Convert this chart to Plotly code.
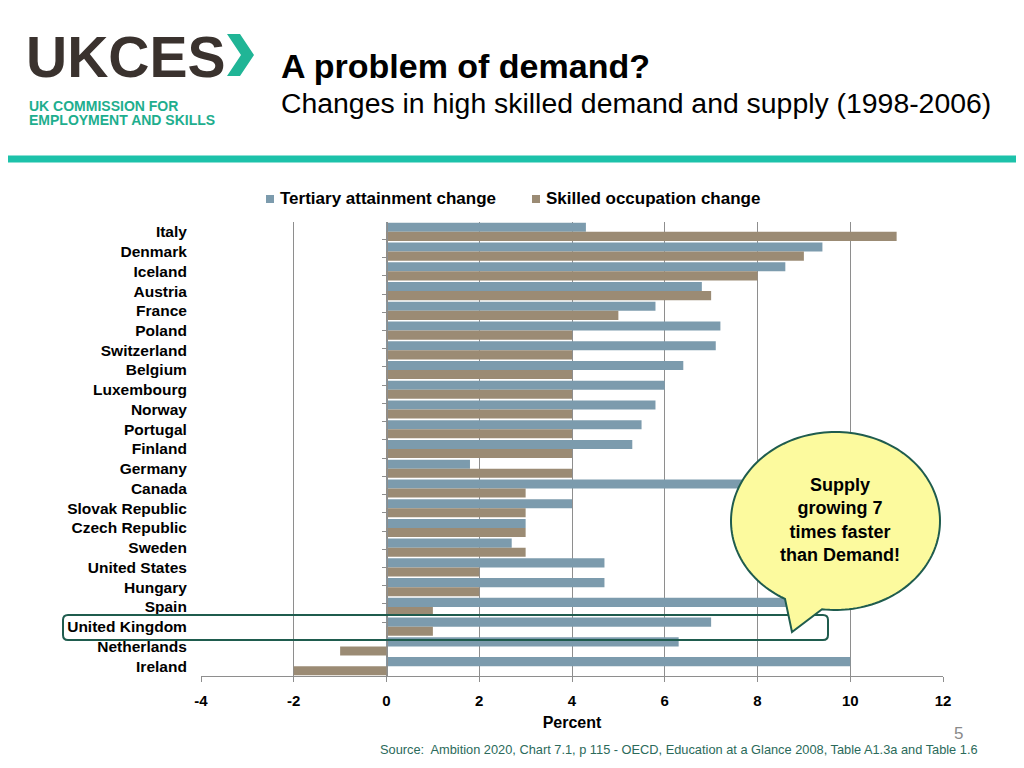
import numpy as np
import plotly.graph_objects as go

countries = ["Italy", "Denmark", "Iceland", "Austria", "France", "Poland", "Switzerland",
             "Belgium", "Luxembourg", "Norway", "Portugal", "Finland", "Germany", "Canada",
             "Slovak Republic", "Czech Republic", "Sweden", "United States", "Hungary",
             "Spain", "United Kingdom", "Netherlands", "Ireland"]
tertiary = [4.3, 9.4, 8.6, 6.8, 5.8, 7.2, 7.1, 6.4, 6.0, 5.8, 5.5, 5.3, 1.8, 8.0,
            4.0, 3.0, 2.7, 4.7, 4.7, 9.0, 7.0, 6.3, 10.0]
skilled = [11.0, 9.0, 8.0, 7.0, 5.0, 4.0, 4.0, 4.0, 4.0, 4.0, 4.0, 4.0, 4.0, 3.0,
           3.0, 3.0, 3.0, 2.0, 2.0, 1.0, 1.0, -1.0, -2.0]
x_ticks = [-4, -2, 0, 2, 4, 6, 8, 10, 12]
x_ticktext = ["-4", "-2", "0", "2", "4", "6", "8", "10", "12"]
series_names = ["Tertiary attainment change", "Skilled occupation change"]

BLUE = "#7C9BAD"
TAUPE = "#9B8B74"
TEAL = "#1DC2AA"
DKGREEN = "#1F5C4E"
FONT = "Liberation Sans"

OFF = 8  # page body margin
W, H = 1024 - OFF, 768 - OFF
# plot area in screen pixels
L, R, T, B = 201, 943, 222, 676


def px(x):
    return (x - L) / (R - L)


def py(y):
    return (B - y) / (B - T)


fig = go.Figure()
fig.add_trace(go.Bar(y=countries, x=tertiary, orientation="h", name=series_names[0],
                     marker=dict(color=BLUE, line=dict(width=0))))
fig.add_trace(go.Bar(y=countries, x=skilled, orientation="h", name=series_names[1],
                     marker=dict(color=TAUPE, line=dict(width=0))))
# helper trace for tick marks on the zero axis
fig.add_trace(go.Scatter(y=countries, x=[None] * len(countries), yaxis="y2", showlegend=False,
                         hoverinfo="skip", mode="markers"))

fig.update_layout(
    width=W, height=H,
    margin=dict(l=L - OFF, r=W - (R - OFF), t=T - OFF, b=H - (B - OFF), pad=0),
    paper_bgcolor="white", plot_bgcolor="white",
    barmode="group", bargap=0.08, bargroupgap=0,
    font=dict(family=FONT, color="black"),
    showlegend=False,
    xaxis=dict(range=[-4, 12], tickvals=x_ticks, ticktext=x_ticktext,
               showgrid=True, gridcolor="#8E8E8E", gridwidth=1,
               zeroline=True, zerolinecolor="#8E8E8E", zerolinewidth=1,
               showline=True, linecolor="#8E8E8E", linewidth=1,
               ticks="outside", ticklen=5, tickcolor="#8E8E8E", ticklabelstandoff=6,
               tickfont=dict(size=15, weight="bold", family=FONT),
               title=dict(text="Percent", font=dict(size=16, weight="bold", family=FONT), standoff=8),
               fixedrange=True),
    yaxis=dict(categoryorder="array", categoryarray=countries, autorange="reversed",
               showgrid=False, showline=False, zeroline=False,
               ticks="outside", ticklen=10, tickcolor="rgba(0,0,0,0)",
               tickfont=dict(size=15.5, weight="bold", family=FONT)),
    yaxis2=dict(overlaying="y", anchor="free", position=px(387), side="left",
                categoryorder="array", categoryarray=countries, autorange="reversed",
                tickson="boundaries", ticks="outside", ticklen=5, tickcolor="#8E8E8E",
                showticklabels=False, showgrid=False, showline=True, linecolor="#8E8E8E",
                zeroline=False),
)

shapes = []
# teal header rule
shapes.append(dict(type="rect", xref="paper", yref="paper", x0=px(0), x1=px(1030),
                   y0=py(155.5), y1=py(162.5), fillcolor=TEAL, line=dict(width=0), layer="above"))

# logo chevron
chev = [(227, 34), (240, 34), (254, 55), (240, 76), (227, 76), (241, 55)]
path = "M " + " L ".join(f"{px(a)},{py(b)}" for a, b in chev) + " Z"
shapes.append(dict(type="path", xref="paper", yref="paper", path=path,
                   fillcolor="#20B596", line=dict(width=0)))

# legend squares
for (lx, col) in [(266, BLUE), (532, TAUPE)]:
    shapes.append(dict(type="rect", xref="paper", yref="paper", x0=px(lx), x1=px(lx + 8),
                       y0=py(203), y1=py(195), fillcolor=col, line=dict(width=0)))

# UK highlight box (rounded)
x0, x1, y0, y1, r = 63, 828, 615, 640, 5
pts = (f"M {px(x0+r)},{py(y0)} L {px(x1-r)},{py(y0)} Q {px(x1)},{py(y0)} {px(x1)},{py(y0+r)} "
       f"L {px(x1)},{py(y1-r)} Q {px(x1)},{py(y1)} {px(x1-r)},{py(y1)} "
       f"L {px(x0+r)},{py(y1)} Q {px(x0)},{py(y1)} {px(x0)},{py(y1-r)} "
       f"L {px(x0)},{py(y0+r)} Q {px(x0)},{py(y0)} {px(x0+r)},{py(y0)} Z")
shapes.append(dict(type="path", xref="paper", yref="paper", path=pts,
                   line=dict(color=DKGREEN, width=2), fillcolor="rgba(0,0,0,0)"))

# speech bubble
cx, cy, rx, ry = 835.5, 521, 104.5, 89
t = np.radians(np.linspace(118.9, 457.4, 160))
bx = cx + rx * np.cos(t)
by = cy + ry * np.sin(t)
bpts = list(zip(bx, by)) + [(792, 632)]
bpath = "M " + " L ".join(f"{px(a):.5f},{py(b):.5f}" for a, b in bpts) + " Z"
shapes.append(dict(type="path", xref="paper", yref="paper", path=bpath,
                   fillcolor="#FCFA9E", line=dict(color=DKGREEN, width=2)))

fig.update_layout(shapes=shapes)

ann = []
ann.append(dict(text="UKCES", x=px(24), y=py(57), xanchor="left", yanchor="middle",
                font=dict(size=57, weight="bold", color="#3A322E", family=FONT)))
ann.append(dict(text="UK COMMISSION FOR", x=px(27), y=py(106), xanchor="left", yanchor="middle",
                font=dict(size=14, weight="bold", color="#1EAE8E", family=FONT)))
ann.append(dict(text="EMPLOYMENT AND SKILLS", x=px(27), y=py(120), xanchor="left", yanchor="middle",
                font=dict(size=14, weight="bold", color="#1EAE8E", family=FONT)))
ann.append(dict(text="A problem of demand?", x=px(279), y=py(66), xanchor="left", yanchor="middle",
                font=dict(size=34, weight="bold", color="black", family=FONT)))
ann.append(dict(text="Changes in high skilled demand and supply (1998-2006)", x=px(279), y=py(103),
                xanchor="left", yanchor="middle",
                font=dict(size=28.4, color="black", family=FONT)))
ann.append(dict(text=series_names[0], x=px(278), y=py(199), xanchor="left", yanchor="middle",
                font=dict(size=17, weight="bold", color="black", family=FONT)))
ann.append(dict(text=series_names[1], x=px(544), y=py(199), xanchor="left", yanchor="middle",
                font=dict(size=17, weight="bold", color="black", family=FONT)))
ann.append(dict(text="Supply<br>growing 7<br>times faster<br>than Demand!", x=px(840), y=py(520),
                xanchor="center", yanchor="middle", align="center",
                font=dict(size=18, weight="bold", color="black", family=FONT)))
ann.append(dict(text="5", x=px(958), y=py(733), xanchor="center", yanchor="middle",
                font=dict(size=17, color="#8A8A8A", family=FONT)))
ann.append(dict(text="Source:  Ambition 2020, Chart 7.1, p 115 - OECD, Education at a Glance 2008, Table A1.3a and Table 1.6",
                x=px(378), y=py(749), xanchor="left", yanchor="middle",
                font=dict(size=12.8, color="#2B6A5A", family=FONT)))
for a in ann:
    a.update(xref="paper", yref="paper", showarrow=False)
fig.update_layout(annotations=ann)

fig.write_html("out.html")
